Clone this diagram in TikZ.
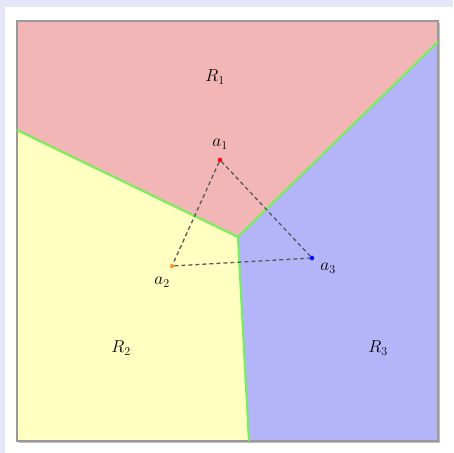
\documentclass[tikz,border=0pt]{standalone}
\usepackage{amsmath,amssymb}
\usepackage{xcolor}
\usepackage{tikz}
\usetikzlibrary{positioning,calc}

\definecolor{pagebg}{RGB}{230,230,250}
\definecolor{regred}{RGB}{242,182,182}
\definecolor{regyel}{RGB}{255,255,194}
\definecolor{regblu}{RGB}{180,180,248}
\definecolor{ridgegreen}{RGB}{120,238,90}

\begin{document}
\begin{tikzpicture}[x=1pt, y=-1pt,
  boxline/.style={draw=black!40, line width=1.4pt},
  ridge/.style={draw=ridgegreen, line width=2.2pt},
  site/.style={circle, inner sep=0pt, minimum size=4.5pt},
  link/.style={dash pattern=on 4pt off 3pt, draw=black!65, line width=1.3pt},
  lbl/.style={font=\fontsize{17}{20}\selectfont, inner sep=1pt}
]
% --- page ---------------------------------------------------------------
\fill[pagebg] (0,0) rectangle (453,453);
\fill[white] (5,7) rectangle (453,453);
\useasboundingbox (0,0) rectangle (453,453);

% --- corners and vertex -------------------------------------------------
\coordinate (nw) at (17,21);
\coordinate (ne) at (438,21);
\coordinate (sw) at (17,441);
\coordinate (se) at (438,441);
\coordinate (v)  at (238,237);
\coordinate (bl) at (17,130);
\coordinate (br) at (438,42);
\coordinate (bb) at (249,441);

% --- regions ------------------------------------------------------------
\fill[regred] (nw) -- (ne) -- (br) -- (v) -- (bl) -- cycle;
\fill[regyel] (bl) -- (v) -- (bb) -- (sw) -- cycle;
\fill[regblu] (br) -- (se) -- (bb) -- (v) -- cycle;
\draw[black!25, line width=1.5pt] ($(sw)+(1.5,1.5)$) -- ($(se)+(1.5,1.5)$) -- ($(ne)+(1.5,1.5)$);
\draw[boxline] (nw) rectangle (se);

% --- boundaries ---------------------------------------------------------
\draw[ridge] (v) -- (bl);
\draw[ridge] (v) -- (br);
\draw[ridge] (v) -- (bb);

% --- sites --------------------------------------------------------------
\node[site, fill=red]            (a1) at (220,160) {};
\node[site, fill=orange!80]      (a2) at (172,266) {};
\node[site, fill=blue]           (a3) at (312,258) {};

\draw[link] (a1) -- (a2) -- (a3) -- (a1);

\node[lbl] (l1) at (220,144) {$a_1$};
\node[lbl] (l2) at (162,282) {$a_2$};
\node[lbl] (l3) at (328,268) {$a_3$};

\node[lbl] (r1) at (215,77)  {$R_1$};
\node[lbl] (r2) at (121,348) {$R_2$};
\node[lbl] (r3) at (378,348) {$R_3$};
\end{tikzpicture}
\end{document}
